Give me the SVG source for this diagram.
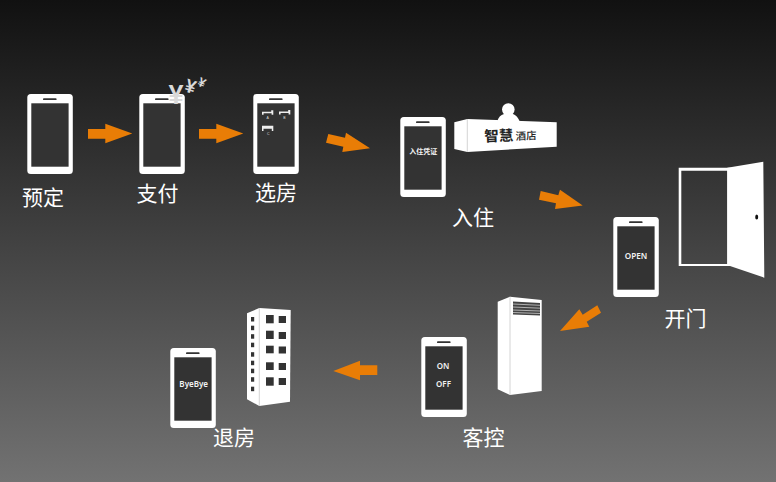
<svg xmlns="http://www.w3.org/2000/svg" xmlns:xlink="http://www.w3.org/1999/xlink" width="776" height="482" viewBox="0 0 776 482">
<style>
.lbl{font-family:"Noto Sans CJK SC","Liberation Sans",sans-serif;font-size:21px;font-weight:400;fill:#fff;text-anchor:middle;dominant-baseline:central}
.scr{font-family:"Noto Sans","Noto Sans CJK SC",sans-serif;font-weight:600;fill:#f2f2f2;text-anchor:middle;dominant-baseline:central}
.arrow{fill:#e97d06}
.w{fill:#fff}
.win{fill:#333}
.yen{font-family:"Liberation Sans",sans-serif;font-weight:700;fill:#d9d9d9;text-anchor:middle;dominant-baseline:central}
.tiny{font-family:"Liberation Sans",sans-serif;font-size:3.5px;fill:#ddd;text-anchor:middle;dominant-baseline:central}
.edge{stroke:#c9c9c9;stroke-width:.8;fill:none}
</style>
<defs>
<linearGradient id="bg" x1="0" y1="0" x2="0" y2="1">
<stop offset="0" stop-color="#111"/>
<stop offset="1" stop-color="#727272"/>
</linearGradient>
<g id="phone">
<rect width="45.5" height="80" rx="3.5" fill="#fff"/>
<rect x="4" y="9.3" width="37.3" height="63.4" fill="#333"/>
<rect x="15.7" y="4.2" width="13.6" height="1.9" rx=".9" fill="#333"/>
</g>
<path id="bed" d="M0 1.4H9.2V0H11.3V4.4H9.6V3H1.6V4.4H0Z" fill="#eee"/>
</defs>
<rect width="776" height="482" fill="url(#bg)"/>
<g id="connectors">
<polygon class="arrow" points="88,129 105.3,129 105.3,123.7 132.3,133.5 105.3,143.3 105.3,138.7 88,138.7"/>
<polygon class="arrow" points="199,129 216.3,129 216.3,123.7 243.3,133.5 216.3,143.3 216.3,138.7 199,138.7"/>
<polygon class="arrow" points="328.3,134 345,137.7 346,132.7 370,148.3 342.3,152 343.3,146.7 326,142.7"/>
<polygon class="arrow" points="540.7,191 558.3,195.3 560,189.7 582.7,205.5 555,209 556,203.3 539,199.7"/>
<polygon class="arrow" points="597.3,305.3 601,312.7 586.7,321.7 589.3,326.7 560,331 579.3,309.3 582.7,314.7"/>
<polygon class="arrow" points="333.3,371 360,360.7 360,365.3 377.3,365.3 377.3,375 360,375 360,380.3"/>
</g>
<g id="node-book">
<use href="#phone" x="27.3" y="94"/>
<text class="lbl" x="43" y="196">预定</text>
</g>
<g id="node-pay">
<use href="#phone" x="139.3" y="94"/>
<text class="yen" font-size="27" x="176" y="94.5">¥</text>
<text class="yen" font-size="19" x="190.5" y="86.5" transform="rotate(18 190.5 86.5)">¥</text>
<text class="yen" font-size="13" x="202" y="82.5" transform="rotate(25 202 82.5)">¥</text>
<text class="lbl" x="157.5" y="191.7">支付</text>
</g>
<g id="node-room">
<use href="#phone" x="253.3" y="94"/>
<use href="#bed" x="262" y="110.3"/>
<use href="#bed" x="279" y="110"/>
<path d="M0 0H11.3V5.2H9.8V3H1.5V5.2H0Z" transform="translate(262 125.8)" fill="#eee"/>
<text class="tiny" x="267.7" y="118">A</text>
<text class="tiny" x="284.3" y="118">B</text>
<text class="tiny" x="268.3" y="134.3">C</text>
<text class="lbl" x="276" y="190.7">选房</text>
</g>
<g id="node-checkin">
<use href="#phone" x="400.3" y="117"/>
<text class="scr" font-size="7" x="423.3" y="151.7">入住凭证</text>
<circle class="w" cx="508.3" cy="109.5" r="6.3"/>
<path class="w" d="M497 122Q499 115 504 114H513Q517 115 520 122Z"/>
<polygon class="w" points="454.3,122.3 467.3,119 556.7,122.3 556.7,146.7 467.3,152 454.3,149"/>
<path class="edge" d="M467.3 119V152"/>
<text font-family="'Noto Sans CJK SC',sans-serif" font-weight="700" font-size="14.5" fill="#222" x="484.2" y="135" dominant-baseline="central" transform="rotate(-2 484 135)">智慧</text>
<text font-family="'Noto Sans CJK SC',sans-serif" font-weight="500" font-size="10.5" fill="#222" x="515.6" y="135.5" dominant-baseline="central" transform="rotate(-2 515 135)">酒店</text>
<text class="lbl" x="473" y="215.7">入住</text>
</g>
<g id="node-door">
<use href="#phone" x="613.3" y="217"/>
<text class="scr" font-size="8.2" x="636" y="255">OPEN</text>
<path class="w" fill-rule="evenodd" d="M678.7 167.7H731V266H678.7ZM681.3 170.7V264H727.3V170.7Z"/>
<polygon class="w" points="727.3,167.7 763.3,161.7 764.3,277.7 730,266 727.3,266"/>
<ellipse cx="756.7" cy="217" rx="1.5" ry="2.5" fill="#111"/>
<text class="lbl" x="685.5" y="316.7">开门</text>
</g>
<g id="node-control">
<use href="#phone" x="421.3" y="337"/>
<text class="scr" font-size="8" x="443" y="365.3">ON</text>
<text class="scr" font-size="8" x="443.5" y="383.7">OFF</text>
<polygon class="w" points="497.7,301.7 510,296.7 541.7,300 541.7,391 510,395 497.7,389.3"/>
<path class="edge" d="M510 296.7V395"/>
<path d="M513 301.5L540 303V315.5L513 314.5Z" fill="#444"/>
<path d="M513 304L540 305.3M513 307L540 308.2M513 310L540 311M513 312.5L540 313.5" stroke="#ccc" stroke-width=".8" fill="none"/>
<text class="lbl" x="483.5" y="436">客控</text>
</g>
<g id="node-checkout">
<use href="#phone" x="170.3" y="348"/>
<text class="scr" font-size="8" x="193.7" y="383.3">ByeBye</text>
<polygon class="w" points="247,313.3 259.3,308 290.7,310 290,401.7 259.3,406 247,399.3"/>
<path class="edge" d="M259.3 308V406"/>
<g class="win">
<rect x="266" y="315" width="7.7" height="8.3"/><rect x="278.7" y="316" width="7.3" height="7"/>
<rect x="266" y="330.7" width="7.7" height="8.3"/><rect x="278.7" y="332" width="7.3" height="7"/>
<rect x="266" y="345.7" width="7.7" height="7.6"/><rect x="278.7" y="346.5" width="7.3" height="7"/>
<rect x="266" y="362.3" width="7.7" height="7.7"/><rect x="278.7" y="363" width="7.3" height="7"/>
<rect x="266" y="377.3" width="7.7" height="8.4"/><rect x="278.7" y="378" width="7.3" height="7"/>
<rect x="251" y="317" width="3.2" height="4.5"/><rect x="251" y="325.7" width="3.2" height="4.5"/>
<rect x="251" y="334.2" width="3.2" height="4.5"/><rect x="251" y="342.7" width="3.2" height="4.5"/>
<rect x="251" y="352.2" width="3.2" height="4.5"/><rect x="251" y="360.7" width="3.2" height="4.5"/>
<rect x="251" y="368.7" width="3.2" height="4.5"/><rect x="251" y="377.2" width="3.2" height="4.5"/>
<rect x="251" y="386.7" width="3.2" height="4.5"/>
</g>
<text class="lbl" x="234" y="436">退房</text>
</g>
</svg>
